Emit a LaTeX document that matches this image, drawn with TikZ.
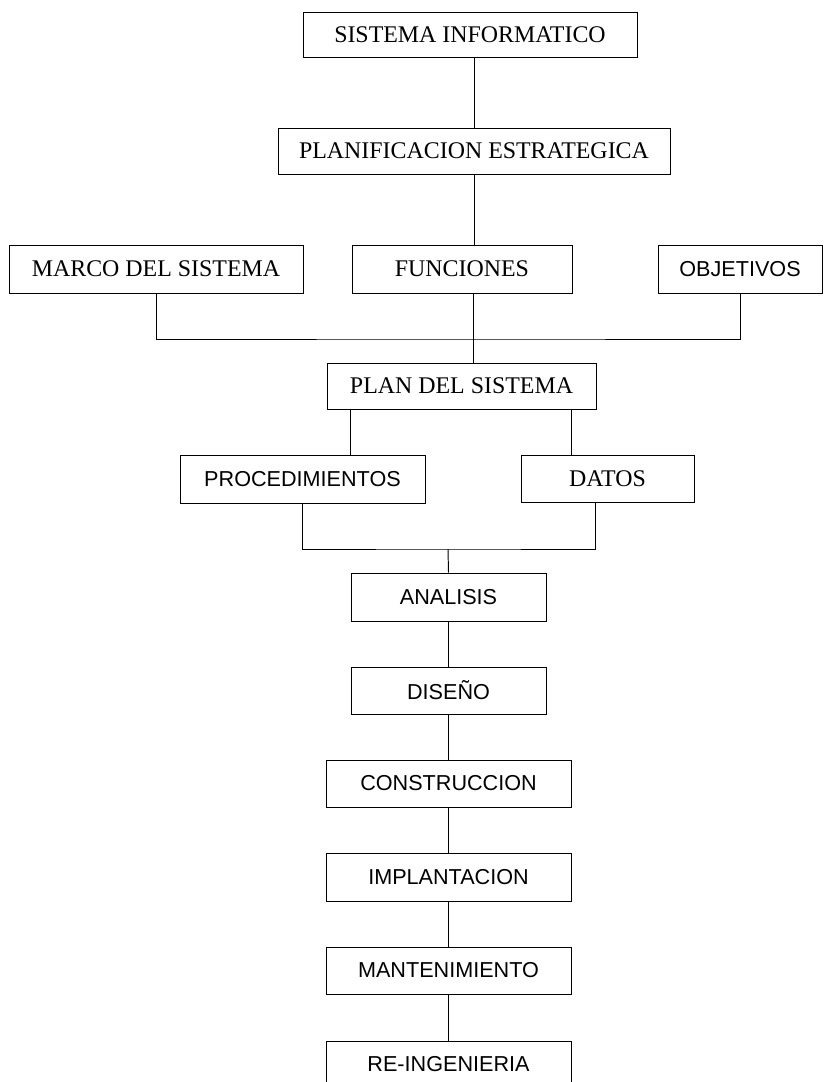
\documentclass[tikz,border=0pt]{standalone}
\usepackage{fontspec}
\setmainfont{Liberation Serif}
\setsansfont{Liberation Sans}
\usepackage{tikz}
\tikzset{wh/.style 2 args={minimum width=#1*0.02cm,minimum height=#2*0.02cm},
  serifbox/.style={draw,rectangle,inner sep=0pt,font=\fontsize{13.6}{15}\selectfont},
  sansbox/.style={draw,rectangle,inner sep=0pt,font=\sffamily\fontsize{12.3}{14}\selectfont}}

\begin{document}
\begin{tikzpicture}[x=.02cm,y=-.02cm,line width=.55pt]
\useasboundingbox (0,0) rectangle (823,1082);
\node[serifbox,wh={334}{45}] (sis) at (470,34.5) {SISTEMA INFORMATICO};
\node[serifbox,wh={392}{46}] (plest) at (474,151) {PLANIFICACION ESTRATEGICA};
\node[serifbox,wh={294}{48}] (marco) at (156,269) {MARCO DEL SISTEMA};
\node[serifbox,wh={220}{48}] (func) at (462,269) {FUNCIONES};
\node[sansbox,wh={164}{48}] (obj) at (740,269) {OBJETIVOS};
\node[serifbox,wh={269}{46}] (plsis) at (461.5,386) {PLAN DEL SISTEMA};
\node[sansbox,wh={245}{48}] (proc) at (302.5,479) {PROCEDIMIENTOS};
\node[serifbox,wh={173}{47}] (datos) at (607.5,478.5) {DATOS};
\node[sansbox,wh={195}{48}] (anal) at (448.5,597) {ANALISIS};
\node[sansbox,wh={195}{47}] (dis) at (448.5,690.5) {DISEÑO};
\node[sansbox,wh={245}{47}] (cons) at (448.5,783.5) {CONSTRUCCION};
\node[sansbox,wh={245}{48}] (impl) at (448.5,877) {IMPLANTACION};
\node[sansbox,wh={245}{47}] (mant) at (448.5,970.5) {MANTENIMIENTO};
\node[sansbox,wh={245}{47}] (reing) at (448.5,1064.5) {RE-INGENIERIA};
\coordinate (busA) at (473,339);
\coordinate (busB) at (448,549);
\coordinate (pl) at ([xshift=.48cm]plsis.south west);
\coordinate (pr) at ([xshift=-.5cm]plsis.south east);
\coordinate (dd) at ([xshift=1.5cm]datos.south west);
\draw (plest.north) -- (plest.north |- sis.south);
\draw (plest.south) -- (plest.south |- func.north);
\draw (marco.south) |- (busA) -| (obj.south);
\draw (func.south -| busA) -- (plsis.north -| busA);
\draw (pl) -- (pl |- proc.north);
\draw (pr) -- (pr |- datos.north);
\draw (proc.south) |- (busB) -| (dd);
\draw (busB) -- (anal.north);
\foreach \a/\b in {anal/dis,dis/cons,cons/impl,impl/mant,mant/reing}
  \draw (\a) -- (\b);
\end{tikzpicture}
\end{document}
